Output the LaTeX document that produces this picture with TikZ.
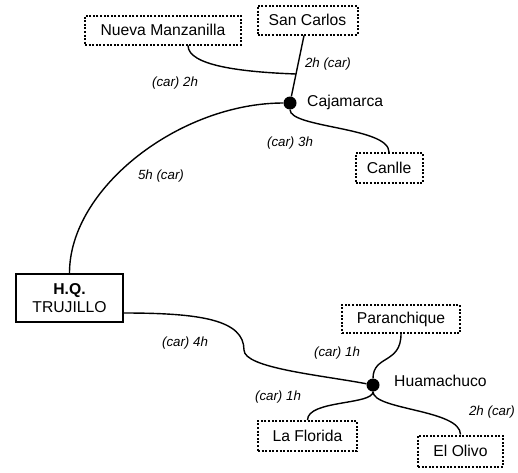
\documentclass[tikz,border=0pt]{standalone}
\usepackage{fontspec}
\setmainfont{Liberation Sans}
\begin{document}
\begin{tikzpicture}[x=1pt,y=-1pt,
  place/.style={draw, line width=2pt, dash pattern=on 2pt off 1.6pt, font=\fontsize{15.7}{18}\selectfont, inner sep=0pt},
  hqbox/.style={draw, line width=2.3pt, font=\fontsize{15.7}{18}\selectfont, inner sep=0pt, align=center},
  road/.style={line width=1.4pt},
  lbl/.style={font=\fontsize{13.3}{15}\selectfont\itshape, inner sep=0pt},
  town/.style={circle, fill=black, minimum size=13pt, inner sep=0pt},
  tname/.style={font=\fontsize{15.7}{18}\selectfont, anchor=west, inner sep=0pt}]
\useasboundingbox (0,0) rectangle (518,472);

% places
\node[place, minimum width=156pt, minimum height=29pt] (nm) at (163,30) {Nueva Manzanilla};
\node[place, minimum width=100pt, minimum height=29pt] (sc) at (307.5,20) {San Carlos};
\node[place, minimum width=67pt, minimum height=30pt] (cn) at (389,168) {Canlle};
\node[hqbox, minimum width=107pt, minimum height=48pt] (hq) at (69.5,298) {\textbf{H.Q.}\\TRUJILLO};
\node[place, minimum width=118pt, minimum height=28pt] (par) at (401,319) {Paranchique};
\node[place, minimum width=99pt, minimum height=30pt] (lf) at (307.5,436) {La Florida};
\node[place, minimum width=85pt, minimum height=31pt] (eo) at (460.5,451) {El Olivo};

% towns
\node[town] (caj) at (290,103) {};
\node[town] (hm) at (373,385) {};
\node[tname] (cajl) at (307,102) {Cajamarca};
\node[tname] (hml) at (394,381) {Huamachuco};

\coordinate (j1) at (296,74);
\coordinate (w1) at (244,350);

% roads
\draw[road] ([xshift=-3.5pt]sc.south) -- (j1) -- (caj);
\draw[road] ([xshift=25pt]nm.south) .. controls +(0,20) and +(-55,-2) .. (j1);
\draw[road] (caj) .. controls +(-110,0) and +(0,-85) .. (hq.north);
\draw[road] (caj) .. controls +(0,25) and +(0,-25) .. (cn.north);
\draw[road] ([yshift=-15pt]hq.east) .. controls +(77,0) and +(0,-30) .. (w1)
            .. controls +(0,18) and +(-53,-10) .. (hm);
\draw[road] (hm) .. controls +(0,-30) and +(0,30) .. (par.south);
\draw[road] (hm) .. controls +(0,20) and +(0,-20) .. (lf.north);
\draw[road] (hm) .. controls +(0,25) and +(0,-25) .. (eo.north);

% labels
\node[lbl] (l1) at (175,83) {(car) 2h};
\node[lbl] (l2) at (328,64) {2h (car)};
\node[lbl] (l3) at (290,143) {(car) 3h};
\node[lbl] (l4) at (161,176) {5h (car)};
\node[lbl] (l5) at (185,343) {(car) 4h};
\node[lbl] (l6) at (337,353) {(car) 1h};
\node[lbl] (l7) at (278,397) {(car) 1h};
\node[lbl] (l8) at (492,412) {2h (car)};
\end{tikzpicture}
\end{document}
